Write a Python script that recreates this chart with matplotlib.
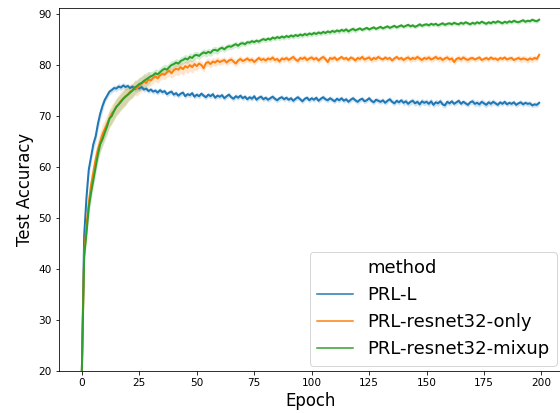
import numpy as np
import matplotlib
matplotlib.use("Agg")
import matplotlib.pyplot as plt
from matplotlib.lines import Line2D

epochs = np.arange(200)
methods = ["PRL-L", "PRL-resnet32-only", "PRL-resnet32-mixup"]
colors = ["#1f77b4", "#ff7f0e", "#2ca02c"]

# mean test accuracy per epoch
acc_l = [
    20.0, 46.5, 54.0, 59.5, 62.0, 64.5, 66.0, 68.5, 70.5, 72.0,
    73.2, 74.0, 74.8, 75.1, 75.5, 75.4, 75.8, 75.6, 76.0, 75.7,
    75.9, 75.5, 75.8, 75.3, 75.6, 75.4, 75.7, 75.2, 75.4, 74.9,
    75.2, 74.8, 75.0, 74.6, 75.1, 74.7, 74.9, 74.3, 74.6, 74.8,
    74.2, 74.5, 74.0, 74.4, 74.6, 73.9, 74.3, 74.1, 74.5, 73.8,
    74.2, 73.9, 74.4, 74.0, 73.7, 74.2, 73.9, 74.3, 73.6, 74.0,
    73.8, 74.1, 73.5, 73.9, 74.2, 73.7, 73.4, 73.9, 73.6, 74.0,
    73.5, 73.8, 73.3, 73.7, 73.4, 73.9, 73.2, 73.6, 73.8, 73.3,
    73.6, 73.2, 73.5, 73.8, 73.4, 73.1, 73.5, 73.7, 73.3, 73.6,
    73.2, 73.5, 73.0, 73.4, 73.7, 73.3, 72.9, 73.4, 73.6, 73.1,
    73.5, 73.2, 73.6, 73.0, 73.4, 73.7, 73.3, 73.1, 73.5, 73.2,
    72.9, 73.4, 73.1, 73.5, 73.0, 73.3, 72.8, 73.2, 73.5, 73.1,
    72.8, 73.2, 73.4, 72.9, 73.1, 73.5, 73.0, 72.7, 73.2, 73.0,
    72.8, 73.1, 72.6, 73.0, 73.3, 72.8, 72.5, 73.0, 72.7, 73.1,
    72.6, 72.9, 72.4, 72.8, 73.0, 72.5, 72.8, 72.3, 72.9, 72.6,
    72.8, 72.4, 72.9, 72.2, 72.7, 72.5, 72.9, 72.3, 72.1, 72.8,
    72.5, 72.9, 72.4, 72.7, 73.0, 72.4, 72.8, 72.5, 72.2, 72.7,
    72.9, 72.4, 72.6, 72.3, 72.8, 72.5, 72.2, 72.7, 72.4, 72.8,
    72.5, 72.2, 72.7, 72.4, 72.8, 72.3, 72.6, 72.4, 72.7, 72.2,
    72.5, 72.7, 72.3, 72.6, 72.4, 72.5, 72.1, 72.3, 72.2, 72.6,
]
acc_only = [
    20.0, 43.0, 48.5, 53.0, 56.5, 59.0, 61.5, 63.5, 65.0, 66.5,
    67.5, 68.5, 69.5, 70.5, 71.0, 71.8, 72.3, 73.0, 73.4, 73.9,
    74.2, 74.8, 75.0, 75.6, 75.4, 76.0, 76.3, 76.8, 76.5, 77.2,
    77.0, 77.5, 77.8, 77.4, 78.0, 78.3, 78.1, 78.6, 78.9, 78.4,
    79.0, 79.3, 79.1, 79.6, 79.2, 79.8, 79.5, 80.0, 79.6, 80.2,
    79.8, 80.3, 80.0, 79.4, 80.4, 80.6, 80.2, 80.7, 80.5, 80.9,
    80.6, 80.8, 81.0, 80.5, 80.9, 81.1, 80.7, 80.3, 80.9, 81.2,
    80.8, 81.0, 81.3, 80.9, 81.1, 80.6, 81.0, 81.4, 81.0, 81.2,
    80.9, 81.3, 81.1, 81.5, 81.0, 81.2, 80.7, 81.3, 81.1, 81.4,
    81.0, 81.3, 81.6, 81.1, 80.8, 81.4, 81.2, 81.5, 81.0, 81.3,
    81.5, 81.1, 81.4, 80.9, 81.3, 81.6, 81.2, 80.6, 81.4, 81.2,
    81.5, 81.0, 81.3, 81.6, 81.2, 81.4, 81.0, 81.5, 81.3, 80.9,
    81.4, 81.2, 81.6, 81.1, 81.3, 81.5, 81.0, 81.4, 81.2, 81.6,
    81.3, 81.1, 81.5, 81.2, 81.4, 80.9, 81.3, 81.6, 81.2, 81.4,
    81.0, 81.3, 81.5, 81.1, 81.4, 81.2, 81.6, 81.3, 81.0, 81.4,
    81.2, 81.5, 81.1, 81.3, 81.6, 81.2, 81.4, 81.0, 81.3, 81.5,
    81.1, 81.3, 80.6, 81.2, 81.4, 81.1, 81.5, 81.2, 81.0, 81.3,
    81.4, 81.1, 81.3, 81.5, 81.0, 81.2, 81.4, 81.1, 81.5, 81.2,
    81.3, 81.0, 81.4, 81.2, 81.5, 81.1, 81.3, 81.4, 81.0, 81.2,
    81.4, 81.1, 81.3, 81.2, 81.0, 81.3, 81.1, 81.4, 81.2, 82.0,
]
acc_mixup = [
    20.0, 42.5, 47.0, 52.0, 55.0, 57.5, 60.0, 62.5, 64.5, 65.5,
    66.8, 68.0, 69.5, 70.0, 71.0, 71.8, 72.3, 72.8, 73.4, 73.8,
    74.2, 74.6, 75.0, 75.6, 75.9, 76.3, 76.5, 76.9, 77.2, 77.5,
    77.8, 78.0, 78.4, 78.2, 78.6, 79.0, 79.3, 79.1, 79.6, 80.0,
    80.2, 80.5, 80.3, 80.8, 81.0, 81.3, 81.1, 81.6, 81.4, 81.9,
    82.0, 81.8, 82.2, 82.5, 82.3, 82.6, 82.4, 82.9, 83.0, 82.8,
    83.2, 83.4, 83.1, 83.5, 83.7, 83.6, 83.9, 84.1, 83.8, 84.2,
    84.3, 84.1, 84.5, 84.4, 84.7, 84.5, 84.8, 84.6, 84.9, 85.1,
    84.9, 85.2, 85.0, 85.4, 85.2, 85.5, 85.3, 85.6, 85.4, 85.7,
    85.5, 85.8, 85.6, 85.9, 85.7, 86.0, 85.8, 86.1, 85.9, 86.2,
    86.0, 86.3, 86.1, 86.4, 86.2, 86.5, 86.3, 86.6, 86.4, 86.7,
    86.5, 86.8, 86.6, 86.9, 86.7, 87.0, 86.6, 86.9, 87.1, 86.8,
    87.0, 87.2, 86.9, 87.1, 87.3, 87.0, 87.2, 87.4, 87.1, 87.3,
    87.5, 87.2, 87.4, 87.6, 87.3, 87.5, 87.7, 87.4, 87.6, 87.8,
    87.5, 87.7, 87.9, 87.6, 87.8, 87.5, 87.7, 88.0, 87.7, 87.9,
    88.0, 87.8, 88.1, 87.9, 88.1, 87.8, 88.0, 88.2, 87.9, 88.1,
    88.2, 88.0, 88.3, 88.1, 88.0, 88.3, 88.1, 88.4, 88.2, 88.0,
    88.3, 88.1, 88.4, 88.2, 88.5, 88.3, 88.1, 88.4, 88.2, 88.5,
    88.3, 88.6, 88.4, 88.2, 88.5, 88.3, 88.6, 88.4, 88.7, 88.5,
    88.4, 88.6, 88.8, 88.5, 88.7, 88.6, 88.9, 88.7, 88.6, 88.9,
]

# half width of the shaded band, one value per block of 10 epochs
band_l = [1.2, 0.6, 0.5, 0.5, 0.5, 0.5, 0.5, 0.5, 0.5, 0.5,
          0.5, 0.5, 0.5, 0.5, 0.6, 0.6, 0.5, 0.6, 0.5, 0.5]
band_only = [2.0, 1.8, 1.5, 1.0, 1.2, 0.8, 0.7, 0.6, 0.6, 0.6,
             0.6, 0.5, 0.6, 0.5, 0.6, 0.6, 0.6, 0.5, 0.5, 0.6]
band_mixup = [1.5, 1.6, 1.3, 0.9, 0.8, 0.7, 0.6, 0.5, 0.5, 0.5,
              0.5, 0.5, 0.4, 0.4, 0.4, 0.4, 0.4, 0.4, 0.4, 0.4]

series = [acc_l, acc_only, acc_mixup]
bands = [band_l, band_only, band_mixup]

dpi = 72
fig = plt.figure(figsize=(560 / dpi, 413 / dpi), dpi=dpi)
# the axes run past the right edge of the figure, as in the reference crop
ax = fig.add_axes([59 / 560, 42 / 413, 503 / 560, 363 / 413])

handles = [Line2D([], [], linestyle="none")]
for y, b, c, name in zip(series, bands, colors, methods):
    y = np.array(y)
    hw = np.repeat(b, 10)
    hw[0] = 0.0
    ax.fill_between(epochs, y - hw, y + hw, color=c, alpha=0.2, linewidth=0)
    line, = ax.plot(epochs, y, color=c, linewidth=2)
    handles.append(line)

ax.set_xlim(-9.95, 208.95)
ax.set_ylim(20, 91.2)
ax.set_xticks(np.arange(0, 201, 25))
ax.tick_params(labelsize=10.5)
ax.set_xlabel("Epoch", fontsize=16.5)
ax.set_ylabel("Test Accuracy", fontsize=16.5)
leg_handles = handles[:1] + [Line2D([], [], color=c, linewidth=1.5) for c in colors]
ax.legend(leg_handles, ["method"] + methods, loc="lower right", fontsize=18,
          borderaxespad=0.3)

fig.savefig("out.png", dpi=dpi)
